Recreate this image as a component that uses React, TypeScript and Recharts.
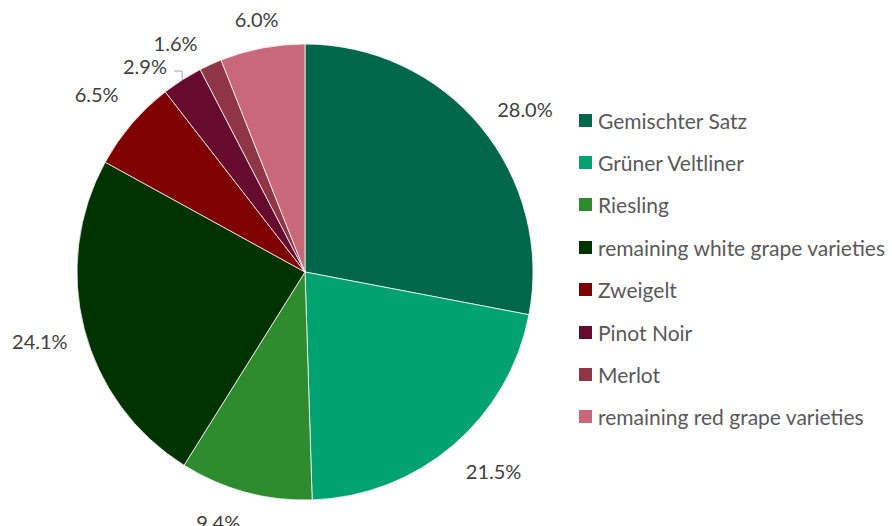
import { Legend, Pie, PieChart, Cell } from "recharts";

const varieties = [
  "Gemischter Satz",
  "Grüner Veltliner",
  "Riesling",
  "remaining white grape varieties",
  "Zweigelt",
  "Pinot Noir",
  "Merlot",
  "remaining red grape varieties",
];
const shares = [28.0, 21.5, 9.4, 24.1, 6.5, 2.9, 1.6, 6.0];
const colors = ["#00674a", "#00a36f", "#2e8b2e", "#003300", "#7f0000", "#660a2e", "#8f3545", "#c86878"];

const data = varieties.map((name, i) => ({ name, value: shares[i] }));

const RAD = Math.PI / 180;

function renderLabel(props: any) {
  const { cx, cy, midAngle, outerRadius, index, value } = props;
  let r = outerRadius + 46;
  let angle = midAngle;
  if (index === 0) angle = midAngle - 3;
  if (index === 1) angle = midAngle + 3;
  if (index === 2) { r = outerRadius + 37; angle = midAngle - 4; }
  if (index === 7) r = outerRadius + 30;
  if (index === 6) { r = outerRadius + 35; angle = midAngle + 5; }
  let x = cx + r * Math.cos(-angle * RAD);
  let y = cy + r * Math.sin(-angle * RAD);
  if (index === 5) { x = 145; y = 66; }
  const text = (
    <text key={`t${index}`} x={x} y={y} fill="#404040" fontSize={20} fontFamily="Lato, 'Open Sans', sans-serif" textAnchor="middle" dominantBaseline="central">
      {value.toFixed(1)}%
    </text>
  );
  if (index === 5) {
    const ex = cx + outerRadius * Math.cos(-midAngle * RAD);
    const ey = cy + outerRadius * Math.sin(-midAngle * RAD);
    return (
      <g key={`g${index}`}>
        <polyline points={`${x + 29},${y + 5} ${x + 37},${y + 5} ${ex},${ey}`} fill="none" stroke="#a6a6a6" strokeWidth={1} />
        {text}
      </g>
    );
  }
  return text;
}

function LegendContent() {
  return (
    <div style={{ fontFamily: "Lato, 'Open Sans', sans-serif", fontSize: 21, color: "#595959" }}>
      {varieties.map((name, i) => (
        <div key={name} style={{ display: "flex", alignItems: "center", height: 42.4 }}>
          <span style={{ width: 13, height: 13, background: colors[i], marginRight: 6, display: "inline-block" }} />
          <span>{name}</span>
        </div>
      ))}
    </div>
  );
}

export default function App() {
  return (
    <div style={{ position: "absolute", left: 0, top: 0, background: "#fff" }}>
      <PieChart width={892} height={526}>
        <Pie
          data={data}
          dataKey="value"
          nameKey="name"
          cx={300}
          cy={267}
          outerRadius={228}
          startAngle={90}
          endAngle={-270}
          stroke="#ffffff"
          strokeWidth={0.75}
          label={renderLabel}
          labelLine={false}
          isAnimationActive={false}
        >
          {data.map((d, i) => (
            <Cell key={d.name} fill={colors[i]} />
          ))}
        </Pie>
        <Legend
          layout="vertical"
          content={<LegendContent />}
          wrapperStyle={{ position: "absolute", left: 579, top: 99, width: 313 }}
        />
      </PieChart>
    </div>
  );
}
